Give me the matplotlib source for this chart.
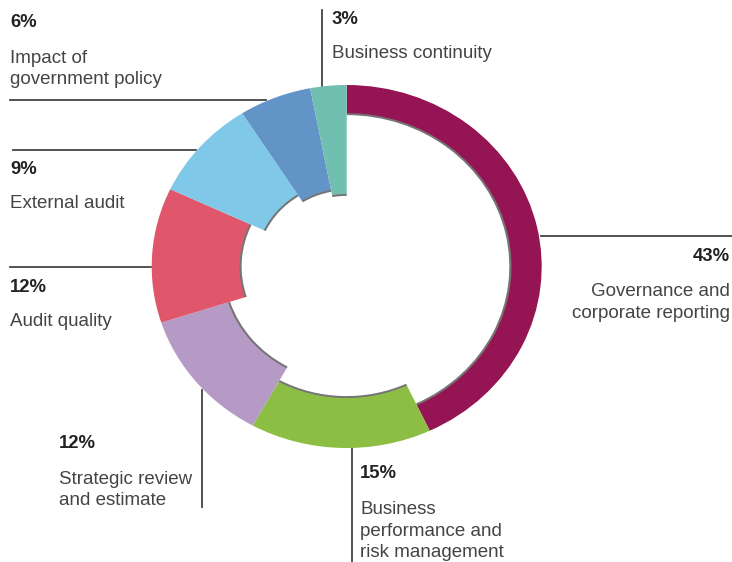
import matplotlib
matplotlib.use("Agg")
import matplotlib.pyplot as plt
from matplotlib.patches import Wedge

plt.rcParams['font.family'] = ['Liberation Sans', 'DejaVu Sans']

# Data
categories = ["Governance and\ncorporate reporting",
              "Business\nperformance and\nrisk management",
              "Strategic review\nand estimate",
              "Audit quality",
              "External audit",
              "Impact of\ngovernment policy",
              "Business continuity"]
values = [43, 15, 12, 12, 9, 6, 3]
pct_labels = ["43%", "15%", "12%", "12%", "9%", "6%", "3%"]

# Styles
colors = ["#951453", "#8BBE43", "#B69AC6", "#E0566B", "#80C8E8", "#6294C8", "#70BFB0"]
inner_r = [0.845, 0.725, 0.64, 0.55, 0.47, 0.43, 0.40]

fig = plt.figure(figsize=(7.32, 5.62), dpi=100)
bg = fig.add_axes([0, 0, 1, 1])
bg.set_xlim(0, 732)
bg.set_ylim(562, 0)
bg.axis('off')

W, H = 732, 562
cx, cy, rx, ry = 346.7, 266.5, 195, 181.5
pax = fig.add_axes([(cx - rx) / W, (H - cy - ry) / H, 2 * rx / W, 2 * ry / H])
wedges, _ = pax.pie(values, colors=colors, startangle=90, counterclock=False,
                    radius=1.0, wedgeprops=dict(linewidth=0))
for w, r in zip(wedges, inner_r):
    w.set_width(1 - r)
    # subtle shadow on inner edge
    sh = Wedge((0, 0), r + 0.003, w.theta1, w.theta2, width=0.014,
               facecolor="#1a1a1a", alpha=0.6, linewidth=0, zorder=0)
    pax.add_patch(sh)
    w.set_zorder(1)
pax.set_aspect('auto')
pax.set_xlim(-1.0, 1.0)
pax.set_ylim(-1.0, 1.0)
pax.axis('off')

lc = "#444444"
lw = 1.3
# leader lines (pixel coordinates)
bg.plot([322, 322], [10, 87], color=lc, lw=lw)          # business continuity
bg.plot([10, 266], [100, 100], color=lc, lw=lw)         # impact of gov policy
bg.plot([13, 196], [149.5, 149.5], color=lc, lw=lw)     # external audit
bg.plot([10, 151], [267, 267], color=lc, lw=lw)         # audit quality
bg.plot([202, 202], [390, 507], color=lc, lw=lw)        # strategic review
bg.plot([352, 352], [448, 562], color=lc, lw=lw)        # business performance
bg.plot([541, 732], [236, 236], color=lc, lw=lw)        # governance

pc = "#222222"
tc = "#444444"
fs_p = 13.3
fs_t = 13.5
step = 21.5

def lab(x, y_pct, y_txt, i, ha='left'):
    bg.text(x, y_pct, pct_labels[i], fontsize=fs_p, fontweight='bold', color=pc,
            ha=ha, va='baseline')
    for k, line in enumerate(categories[i].split("\n")):
        bg.text(x, y_txt + k * step, line, fontsize=fs_t, color=tc, ha=ha,
                va='baseline')

lab(332, 24, 57.5, 6)
lab(10, 27.3, 62.7, 5)
lab(10, 174, 208.3, 4)
lab(10, 291.7, 326, 3)
lab(59, 448.3, 483.5, 2)
lab(360, 478, 514, 1)
lab(730, 260.7, 296.5, 0, ha='right')

fig.savefig("out.png", dpi=100, facecolor="white")
